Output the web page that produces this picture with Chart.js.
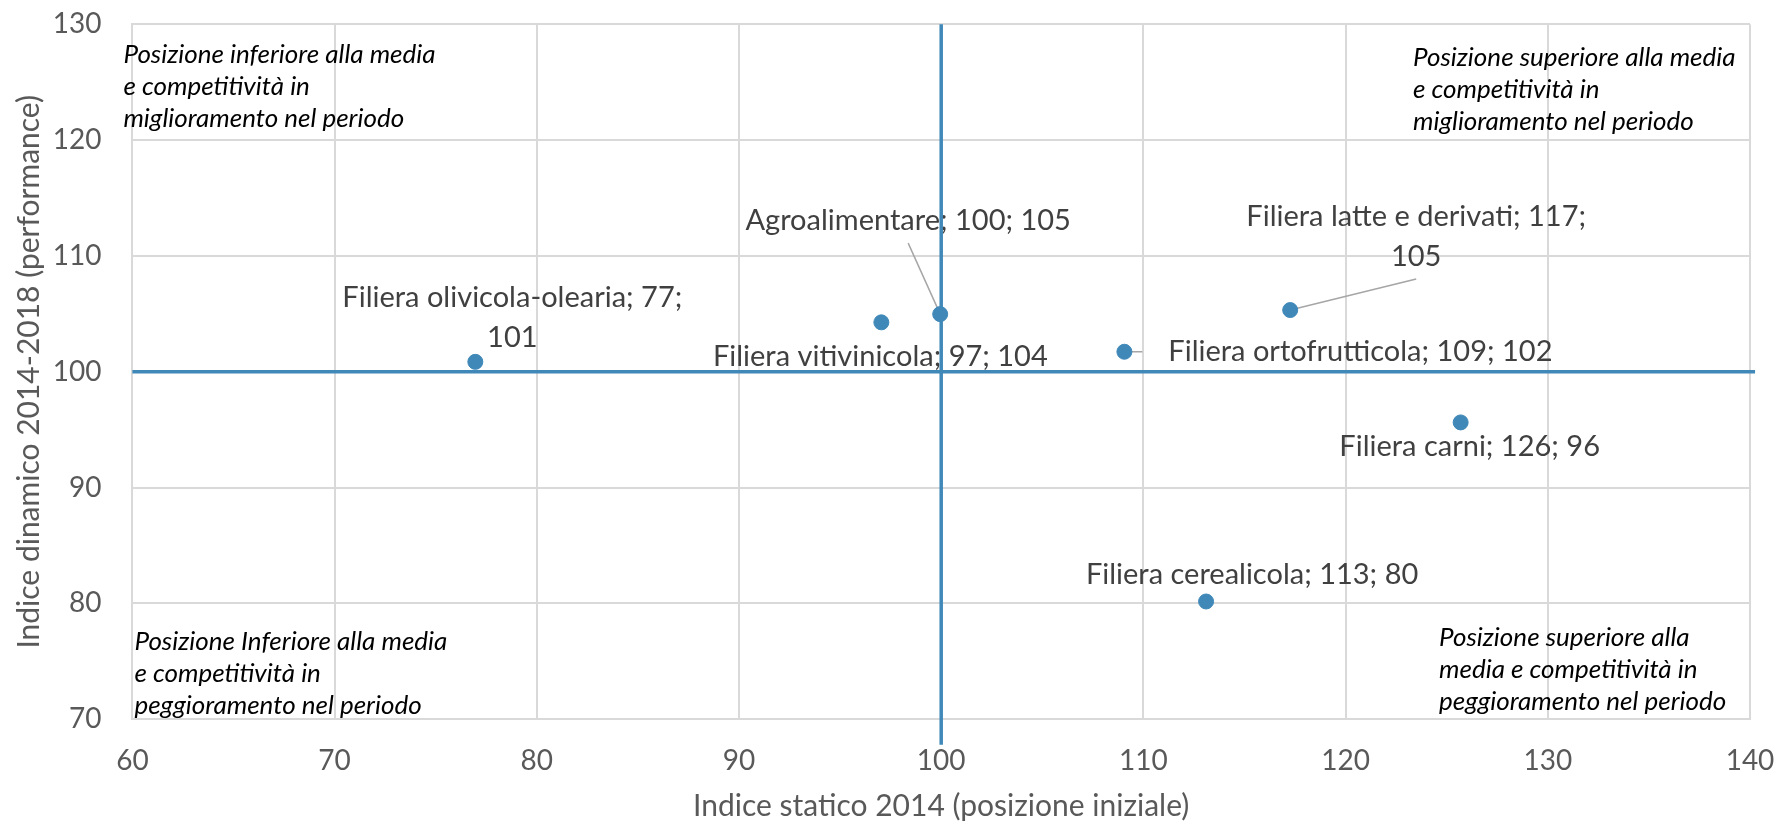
<!DOCTYPE html>
<html lang="it">
<head>
<meta charset="utf-8">
<title>Indice statico e dinamico delle filiere</title>
<script src="https://cdn.jsdelivr.net/npm/chart.js@4.4.1/dist/chart.umd.min.js"></script>
<style>
  html, body { margin: 0; padding: 0; background: #ffffff; }
  #wrap { width: 1780px; height: 824px; }
</style>
</head>
<body>
<div id="wrap"><canvas id="chart" width="1780" height="824"></canvas></div>
<script>
// Filiere: indice statico 2014 (x) e indice dinamico 2014-2018 (y)
const names = [
  'Filiera olivicola-olearia',
  'Agroalimentare',
  'Filiera vitivinicola',
  'Filiera ortofrutticola',
  'Filiera latte e derivati',
  'Filiera carni',
  'Filiera cerealicola'
];
const staticIndex  = [76.96, 99.95, 97.04, 109.06, 117.26, 125.69, 113.10];
const dynamicIndex = [100.86, 104.98, 104.27, 101.73, 105.33, 95.63, 80.17];

// Reference lines at the average (100) on both axes
const avgVerticalX = [100, 100];
const avgVerticalY = [130, 67.8];
const avgHorizontalX = [60, 140.25];
const avgHorizontalY = [100, 100];

const xTicks = [60, 70, 80, 90, 100, 110, 120, 130, 140];
const yTicks = [70, 80, 90, 100, 110, 120, 130];

const quadrantNotes = [
  ['Posizione inferiore alla media', 'e competitività in', 'miglioramento nel periodo'],
  ['Posizione superiore alla media', 'e competitività in', 'miglioramento nel periodo'],
  ['Posizione Inferiore alla media', 'e competitività in', 'peggioramento nel periodo'],
  ['Posizione superiore alla', 'media e competitività in', 'peggioramento nel periodo']
];

// Placement of each data label relative to its point (pixels)
const labelPlacement = [
  { dx: 37,  dy: [-64, -24], split: true,  leader: null },
  { dx: -32, dy: [-93],      split: false, leader: { x: -32, y: -71 } },
  { dx: -1,  dy: [34],       split: false, leader: null },
  { dx: 236, dy: [0],        split: false, leader: { x: 18, y: 0 } },
  { dx: 126, dy: [-93, -53], split: true,  leader: { x: 126, y: -31 } },
  { dx: 9,   dy: [24],       split: false, leader: null },
  { dx: 46,  dy: [-27],      split: false, leader: null }
];

// Placement of the quadrant notes, from the plot-area corners (pixels)
const notePlacement = [
  { corner: 'tl', x: -9,   y: 30 },
  { corner: 'tr', x: -337, y: 33 },
  { corner: 'bl', x: 2,    y: -78 },
  { corner: 'br', x: -311, y: -82 }
];

const BLUE = '#3f88b8';
const FONT = 'Lato, "Noto Sans", sans-serif';

const pointData = staticIndex.map((x, i) => ({ x, y: dynamicIndex[i] }));

const labelsPlugin = {
  id: 'pointLabels',
  beforeDatasetsDraw(chart) {
    const ctx = chart.ctx;
    const meta = chart.getDatasetMeta(0);
    ctx.save();
    ctx.font = '29px ' + FONT;
    ctx.fillStyle = '#404040';
    ctx.textAlign = 'center';
    ctx.textBaseline = 'middle';
    meta.data.forEach((pt, i) => {
      const p = labelPlacement[i];
      const a = Math.round(staticIndex[i]);
      const b = Math.round(dynamicIndex[i]);
      const lines = p.split
        ? [names[i] + '; ' + a + ';', String(b)]
        : [names[i] + '; ' + a + '; ' + b];
      lines.forEach((t, k) => ctx.fillText(t, pt.x + p.dx, pt.y + p.dy[k]));
      if (p.leader) {
        ctx.strokeStyle = '#a6a6a6';
        ctx.lineWidth = 1.5;
        ctx.beginPath();
        ctx.moveTo(pt.x + p.leader.x, pt.y + p.leader.y);
        ctx.lineTo(pt.x, pt.y);
        ctx.stroke();
      }
    });
    ctx.restore();
  },
  afterDatasetsDraw(chart) {
    const ctx = chart.ctx;
    const area = chart.chartArea;
    ctx.save();
    ctx.font = 'italic 26px ' + FONT;
    ctx.fillStyle = '#000000';
    ctx.textAlign = 'left';
    ctx.textBaseline = 'middle';
    quadrantNotes.forEach((lines, i) => {
      const np = notePlacement[i];
      const bx = np.corner[1] === 'l' ? area.left : area.right;
      const by = np.corner[0] === 't' ? area.top : area.bottom;
      lines.forEach((t, k) => ctx.fillText(t, bx + np.x, by + np.y + k * 32));
    });
    ctx.restore();
  }
};

new Chart(document.getElementById('chart'), {
  type: 'scatter',
  data: {
    datasets: [
      {
        label: 'Filiere',
        data: pointData,
        backgroundColor: BLUE,
        borderColor: BLUE,
        pointRadius: 7.5,
        pointHoverRadius: 7.5,
        order: 0
      },
      {
        label: 'Media x',
        data: avgVerticalX.map((x, i) => ({ x, y: avgVerticalY[i] })),
        showLine: true,
        borderColor: BLUE,
        borderWidth: 3.5,
        pointRadius: 0,
        clip: false,
        order: 1
      },
      {
        label: 'Media y',
        data: avgHorizontalX.map((x, i) => ({ x, y: avgHorizontalY[i] })),
        showLine: true,
        borderColor: BLUE,
        borderWidth: 3.5,
        pointRadius: 0,
        clip: false,
        order: 1
      }
    ]
  },
  plugins: [labelsPlugin],
  options: {
    responsive: false,
    animation: false,
    devicePixelRatio: 1,
    layout: { padding: { left: 0, right: 30, top: 24.3, bottom: 0 } },
    plugins: {
      legend: { display: false },
      tooltip: { enabled: false }
    },
    scales: {
      x: {
        type: 'linear',
        min: xTicks[0],
        max: xTicks[xTicks.length - 1],
        afterBuildTicks(scale) { scale.ticks = xTicks.map(v => ({ value: v })); },
        afterFit(scale) {
          scale.height = 104.7;
          scale.paddingLeft = 0;
          scale.paddingRight = 0;
        },
        grid: { color: '#d9d9d9', lineWidth: 2, drawTicks: false },
        border: { color: '#d9d9d9', width: 2 },
        ticks: { color: '#595959', font: { family: FONT, size: 28 }, padding: 25 },
        title: {
          display: true,
          text: 'Indice statico 2014 (posizione iniziale)',
          color: '#595959',
          font: { family: FONT, size: 30 },
          padding: { top: 0, bottom: 0 }
        }
      },
      y: {
        type: 'linear',
        min: yTicks[0],
        max: yTicks[yTicks.length - 1],
        afterBuildTicks(scale) { scale.ticks = yTicks.map(v => ({ value: v })); },
        afterFit(scale) {
          scale.width = 132.4;
          scale.paddingTop = 0;
          scale.paddingBottom = 0;
        },
        grid: { color: '#d9d9d9', lineWidth: 2, drawTicks: false },
        border: { color: '#d9d9d9', width: 2 },
        ticks: { color: '#595959', font: { family: FONT, size: 28 }, padding: 31 },
        title: {
          display: true,
          text: 'Indice dinamico 2014-2018 (performance)',
          color: '#595959',
          font: { family: FONT, size: 30 },
          padding: { top: 11, bottom: 11 }
        }
      }
    }
  }
});
</script>
</body>
</html>
